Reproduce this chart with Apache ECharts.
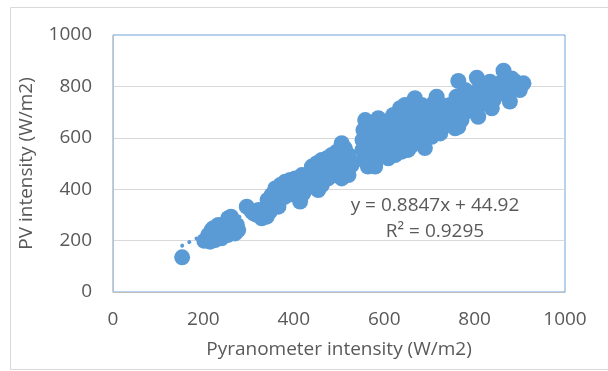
<!DOCTYPE html>
<html>
<head>
<meta charset="utf-8">
<script src="https://cdn.jsdelivr.net/npm/echarts@6/dist/echarts.min.js"></script>
<style>
  html, body { margin: 0; padding: 0; background: #ffffff; }
  #chart { width: 608px; height: 371px; }
</style>
</head>
<body>
<div id="chart"></div>
<script>
// Pyranometer reading (W/m2) against PV module intensity (W/m2)
const pyranometer = [
  153,
  202, 211, 218, 226, 233, 240, 248, 255, 261, 266, 274, 277, 270, 255, 240, 226, 215, 222, 233, 245, 262, 230,
  296, 307, 318, 329, 340, 347, 333, 322, 312, 335,
  342, 351, 359, 370, 381, 392, 403, 418, 429, 366, 373, 359, 388, 399, 414, 421, 410, 429, 440,
  350, 365, 378, 395, 405, 415, 425, 395, 380,
  440, 451, 462, 473, 484, 495, 506, 513, 521, 528, 521, 506, 491, 476, 462, 454, 447, 469, 484, 502, 513, 462, 443,
  455, 470, 480, 495, 505, 515, 495, 480, 510, 525,
  558, 554, 552, 552, 554, 564, 580, 583, 569, 572, 569, 576, 587, 602, 598, 594, 598, 609, 624, 617,
  613, 617, 620, 635, 646, 639, 635, 631, 639, 653, 653, 653, 657, 664, 668, 683, 679, 676, 672, 687,
  690, 698, 698, 709, 716, 727, 720, 712, 705, 724, 735, 738, 746, 749, 757, 764,
  590, 605, 610, 625, 640, 660, 665, 690, 700, 715, 730, 740, 620, 660, 690, 710,
  760, 764, 779, 786, 782, 771, 794, 805, 812, 816, 805, 808, 827, 834, 845, 842, 838, 856, 864, 867,
  860, 878, 882, 893, 908, 900, 875,
  790, 820, 850, 870, 890, 830, 800, 775, 760
];
const pvIntensity = [
  135,
  199, 222, 241, 222, 235, 248, 267, 287, 293, 274, 261, 241, 228, 222, 209, 202, 196, 248, 261, 235, 250, 215,
  332, 313, 300, 287, 293, 313, 313, 319, 305, 300,
  358, 378, 403, 416, 429, 436, 442, 455, 455, 332, 365, 352, 390, 403, 352, 384, 410, 423, 410,
  365, 385, 400, 415, 425, 430, 440, 380, 370,
  488, 501, 514, 520, 533, 546, 579, 559, 533, 494, 455, 442, 455, 442, 416, 397, 416, 468, 494, 507, 507, 468, 455,
  470, 480, 510, 520, 530, 520, 470, 460, 480, 510,
  669, 630, 591, 553, 514, 488, 488, 520, 533, 572, 611, 643, 676, 663, 624, 585, 546, 520, 533, 566,
  604, 643, 689, 715, 728, 676, 630, 585, 546, 553, 598, 643, 689, 741, 754, 728, 689, 643, 598, 585,
  624, 663, 708, 734, 760, 728, 689, 643, 604, 617, 650, 695, 728, 669, 637, 643,
  560, 600, 640, 660, 620, 620, 665, 700, 640, 700, 680, 650, 570, 570, 560, 620,
  760, 821, 786, 747, 702, 669, 773, 834, 799, 754, 715, 682, 780, 818, 793, 747, 715, 812, 861, 818,
  773, 741, 831, 812, 812, 786, 780,
  740, 780, 790, 780, 795, 730, 760, 730, 700
];

// Linear trendline reported on the chart
const trendSlope = 0.8847;
const trendIntercept = 44.92;
const rSquared = 0.9295;

const axisTicks = [0, 200, 400, 600, 800, 1000];

const points = pyranometer.map((x, i) => [x, pvIntensity[i]]);
const xLo = Math.min(...pyranometer);
const xHi = Math.max(...pyranometer);
const trendPoints = [xLo, xHi].map(x => [x, trendSlope * x + trendIntercept]);

const FONT = '"Open Sans", "Noto Sans", sans-serif';
const TEXT = '#595959';
const BLUE = '#5B9BD5';

const chart = echarts.init(document.getElementById('chart'), null, { renderer: 'canvas' });
chart.setOption({
  animation: false,
  backgroundColor: '#ffffff',
  textStyle: { fontFamily: FONT },
  grid: {
    left: 113, right: 43, top: 35, bottom: 79,
    show: true, borderColor: '#6FA3D8', borderWidth: 1, backgroundColor: 'transparent'
  },
  xAxis: {
    type: 'value',
    min: axisTicks[0], max: axisTicks[axisTicks.length - 1], interval: axisTicks[1] - axisTicks[0],
    name: 'Pyranometer intensity (W/m2)',
    nameLocation: 'middle', nameGap: 48,
    nameTextStyle: { color: TEXT, fontSize: 19, fontFamily: FONT },
    axisLine: { show: true, lineStyle: { color: '#BFBFBF', width: 1 } },
    axisTick: { show: false },
    splitLine: { show: false },
    axisLabel: { color: TEXT, fontSize: 19, fontFamily: FONT, margin: 18, formatter: v => String(v) }
  },
  yAxis: {
    type: 'value',
    min: axisTicks[0], max: axisTicks[axisTicks.length - 1], interval: axisTicks[1] - axisTicks[0],
    name: 'PV intensity (W/m2)',
    nameLocation: 'middle', nameGap: 77,
    nameTextStyle: { color: TEXT, fontSize: 19, fontFamily: FONT },
    axisLine: { show: true, lineStyle: { color: '#BFBFBF', width: 1 } },
    axisTick: { show: false },
    splitLine: { show: true, showMaxLine: false, lineStyle: { color: '#D9D9D9', width: 1 } },
    axisLabel: { color: TEXT, fontSize: 19, fontFamily: FONT, margin: 21, formatter: v => String(v) }
  },
  series: [
    {
      type: 'scatter',
      data: points,
      symbol: 'circle',
      symbolSize: 16,
      itemStyle: { color: BLUE, opacity: 1, borderWidth: 0 },
      z: 2
    },
    {
      type: 'line',
      data: trendPoints,
      showSymbol: false,
      symbol: 'none',
      lineStyle: { color: BLUE, width: 4, type: [0.01, 8], cap: 'round' },
      z: 3
    }
  ],
  graphic: [
    {
      type: 'rect',
      shape: { x: 10.5, y: 7.5, width: 640, height: 362 },
      style: { fill: 'none', stroke: '#D9D9D9', lineWidth: 1 },
      silent: true, z: -10
    },
    {
      type: 'text',
      x: 435, y: 193,
      style: {
        text: 'y = ' + trendSlope + 'x + ' + trendIntercept + '\nR² = ' + rSquared,
        fill: TEXT, fontSize: 19, fontFamily: FONT,
        textAlign: 'center', textVerticalAlign: 'top', lineHeight: 26
      },
      z: 10
    }
  ]
});
</script>
</body>
</html>
